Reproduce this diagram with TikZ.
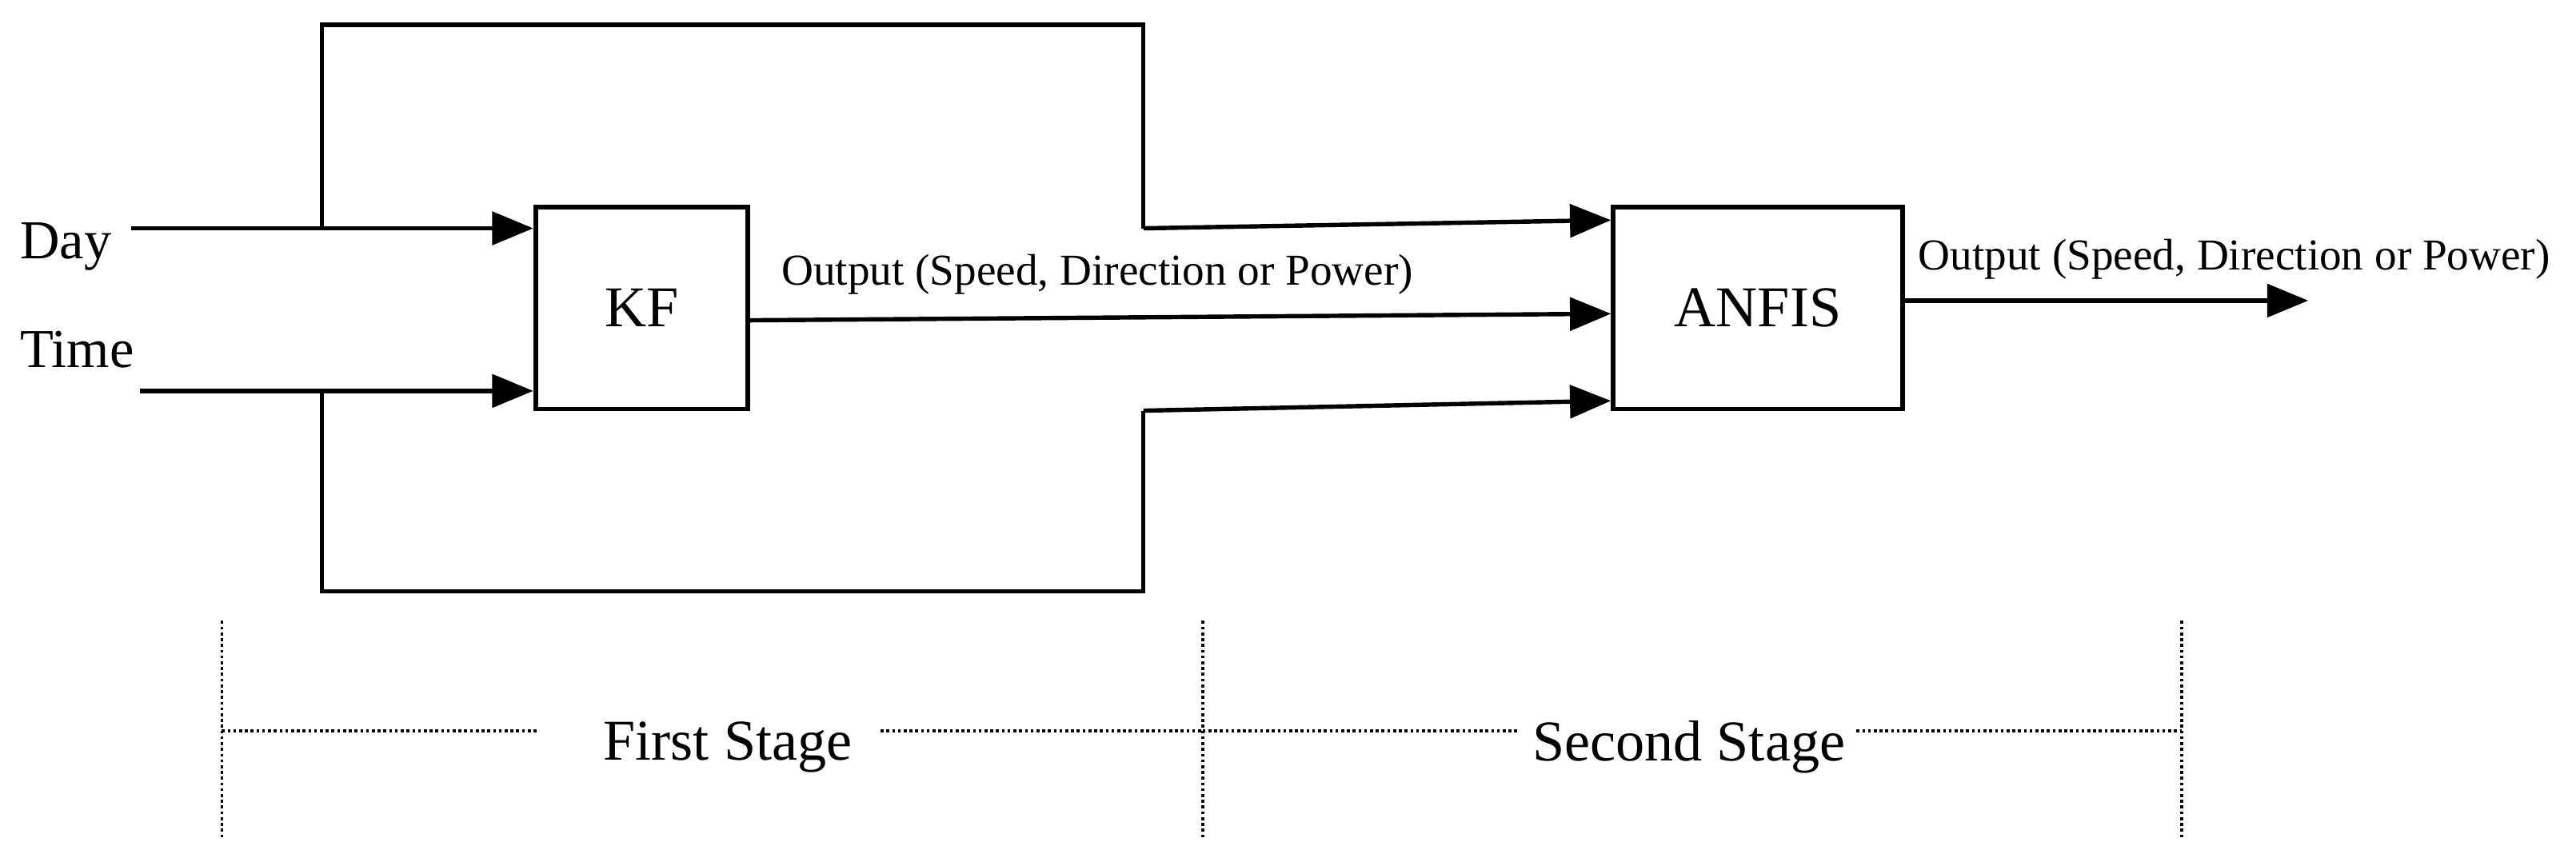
\documentclass[tikz,border=0pt]{standalone}
\usepackage{fontspec}
\setmainfont{Liberation Serif}
\usetikzlibrary{positioning, arrows.meta}
\tikzset{block/.style={draw,line width=1.6pt,minimum width=2.58cm,minimum height=2.46cm,font=\fontsize{20}{24}\selectfont},
         sig/.style={line width=1.5pt,-{Triangle[length=5mm,width=4mm]}},
         wire/.style={line width=1.5pt},
         stage/.style={densely dotted,line width=1pt},
         lbl/.style={font=\fontsize{15.3}{18}\selectfont},
        }
\begin{document}
\begin{tikzpicture}[x=0.02cm,y=-0.02cm]
        \useasboundingbox (0,0) rectangle (1568,527);
        \node[block](kf)at(390.5,187.5){KF};
        \node[block,minimum width=3.52cm](anfis)at(1070,187.5){ANFIS};
        \node[lbl,font=\fontsize{19}{23}\selectfont](day)at(40,150){Day};
        \node[lbl,font=\fontsize{19}{23}\selectfont](time)at(47,213){Time};

        % inputs
        \coordinate(din)at(80,139);
        \coordinate(tin)at(85,238);
        \draw[sig](din)--(din-|kf.west);
        \draw[sig](tin)--(tin-|kf.west);

        % bypass loops
        \coordinate(ta)at(196,139);\coordinate(tb)at(196,15);
        \coordinate(tc)at(696,15);\coordinate(td)at(696,139);
        \draw[wire](ta)--(tb)--(tc)--(td);
        \draw[sig](td)--(anfis.west|-0,134);
        \coordinate(ba)at(196,238);\coordinate(bb)at(196,360);
        \coordinate(bc)at(696,360);\coordinate(bd)at(696,250);
        \draw[wire](ba)--(bb)--(bc)--(bd);
        \draw[sig](bd)--(anfis.west|-0,244);

        % outputs
        \draw[sig](kf.east|-0,195)--(anfis.west|-0,191);
        \node[lbl](kfout)at(668,167){Output (Speed, Direction or Power)};
        \coordinate(out)at(1405,183);
        \draw[sig](anfis.east|-out)--(out);
        \node[lbl](anfisout)at(1360,158){Output (Speed, Direction or Power)};

        % stages
        \foreach \x/\n in {135/s1,732/s2,1328/s3}
          {\coordinate(\n t)at(\x,378);\coordinate(\n b)at(\x,510);
           \draw[stage](\n t)--(\n b);}
        \node[lbl,font=\fontsize{20}{24}\selectfont](first)at(443,455){First Stage};
        \node[lbl,font=\fontsize{20}{24}\selectfont](second)at(1028,455){Second Stage};
        \draw[stage](s1t|-0,445)--(328,445);
        \draw[stage](536,445)--(s2t|-0,445);
        \draw[stage](s2t|-0,445)--(925,445);
        \draw[stage](1130,445)--(s3t|-0,445);
\end{tikzpicture}
\end{document}
